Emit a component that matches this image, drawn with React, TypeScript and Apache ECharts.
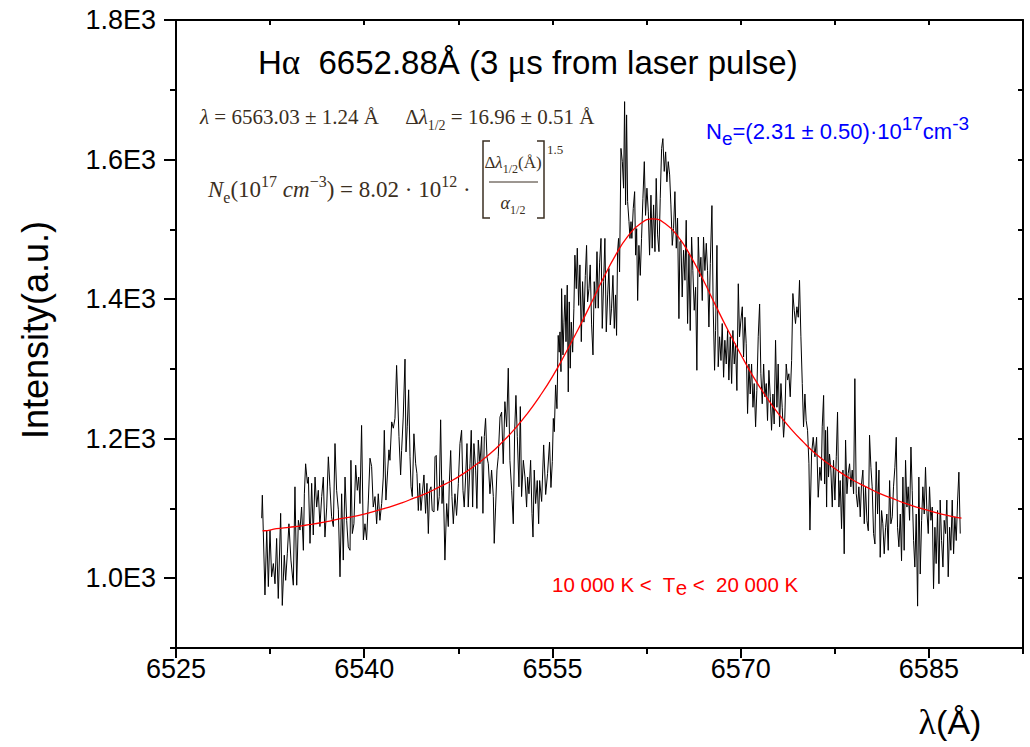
import React, { useEffect, useRef } from "react";
import * as echarts from "echarts";

const SANS = "'Liberation Sans', Arial, sans-serif";
const SERIF = "'Liberation Serif', 'Times New Roman', serif";
const INK = "#3b2f22";

const xTicks = [6525, 6540, 6555, 6570, 6585];
const xMinorTicks = [6532.5, 6547.5, 6562.5, 6577.5, 6592.5];
const yTicks = [1000, 1200, 1400, 1600, 1800];
const yTickLabels = ["1.0E3", "1.2E3", "1.4E3", "1.6E3", "1.8E3"];
const yMinorTicks = [900, 1100, 1300, 1500, 1700];

// measured spectrum (wavelength in Å, intensity in a.u.)
const wavelength = [
  6531.83, 6531.88, 6532.09, 6532.23, 6532.36, 6532.49, 6532.62, 6532.76, 6532.89, 6533.02,
  6533.15, 6533.34, 6533.47, 6533.63, 6533.74, 6533.87, 6534.0, 6534.16, 6534.35, 6534.48,
  6534.62, 6534.75, 6534.88, 6535.01, 6535.15, 6535.23, 6535.33, 6535.47, 6535.55, 6535.68,
  6535.81, 6535.94, 6536.08, 6536.21, 6536.34, 6536.47, 6536.61, 6536.74, 6536.87, 6537.01,
  6537.14, 6537.27, 6537.4, 6537.54, 6537.67, 6537.8, 6537.94, 6538.07, 6538.2, 6538.33,
  6538.47, 6538.6, 6538.73, 6538.87, 6538.94, 6539.05, 6539.18, 6539.32, 6539.45, 6539.56,
  6539.66, 6539.79, 6539.93, 6540.06, 6540.19, 6540.33, 6540.46, 6540.59, 6540.72, 6540.86,
  6540.99, 6541.12, 6541.25, 6541.39, 6541.52, 6541.6, 6541.73, 6541.87, 6541.97, 6542.05,
  6542.19, 6542.32, 6542.45, 6542.58,
  6542.77, 6542.9, 6542.98, 6543.11, 6543.25, 6543.33, 6543.43, 6543.54, 6543.65, 6543.73,
  6543.83, 6543.96, 6544.1, 6544.2, 6544.31, 6544.42, 6544.52, 6544.63, 6544.76, 6544.89,
  6545.0, 6545.11, 6545.21, 6545.32, 6545.42, 6545.56, 6545.64, 6545.74, 6545.85, 6545.98,
  6546.09, 6546.2, 6546.3, 6546.43, 6546.57, 6546.7, 6546.78, 6546.89, 6546.99, 6547.1,
  6547.23, 6547.36, 6547.5, 6547.63, 6547.76, 6547.87, 6547.97, 6548.08, 6548.19, 6548.29,
  6548.43, 6548.53, 6548.64, 6548.74, 6548.88, 6548.98, 6549.09, 6549.22, 6549.36, 6549.46,
  6549.57, 6549.67, 6549.78, 6549.89, 6550.02, 6550.15, 6550.29, 6550.36, 6550.47, 6550.58,
  6550.68, 6550.82, 6550.95, 6551.08, 6551.21, 6551.35, 6551.48, 6551.61, 6551.75, 6551.88,
  6551.99, 6552.09, 6552.2, 6552.33, 6552.44, 6552.54, 6552.68, 6552.81, 6552.94, 6553.02,
  6553.13, 6553.26, 6553.37, 6553.45, 6553.55, 6553.66, 6553.79, 6553.9,
  6553.98, 6554.14, 6554.3, 6554.46, 6554.61, 6554.77, 6554.88,
  6554.99, 6555.07, 6555.15, 6555.25, 6555.36, 6555.46, 6555.54, 6555.6, 6555.68, 6555.73,
  6555.84, 6555.92, 6556.0, 6556.08, 6556.18, 6556.26, 6556.34, 6556.42, 6556.5, 6556.61,
  6556.71, 6556.79, 6556.9, 6556.98, 6557.09, 6557.19, 6557.3, 6557.4, 6557.51, 6557.62,
  6557.72, 6557.8, 6557.91, 6558.01, 6558.12, 6558.23, 6558.33, 6558.44, 6558.55, 6558.65,
  6558.76, 6558.87, 6558.97, 6559.08, 6559.18, 6559.29, 6559.4, 6559.5, 6559.61, 6559.71,
  6559.82, 6559.93, 6560.03, 6560.11, 6560.19, 6560.27, 6560.35, 6560.46, 6560.57, 6560.67,
  6560.75, 6560.83, 6560.91, 6560.99, 6561.1, 6561.18, 6561.26, 6561.33, 6561.44, 6561.55,
  6561.63, 6561.71, 6561.79, 6561.89, 6562.0, 6562.1, 6562.21, 6562.32, 6562.42, 6562.53,
  6562.64, 6562.74, 6562.85, 6562.95, 6563.06, 6563.17, 6563.27, 6563.38, 6563.49, 6563.59,
  6563.7, 6563.8, 6563.91, 6564.02, 6564.12, 6564.23, 6564.34, 6564.44, 6564.55, 6564.65,
  6564.76, 6564.87, 6564.97, 6565.08, 6565.16,
  6565.24, 6565.34, 6565.45, 6565.56, 6565.66, 6565.77, 6565.88, 6565.98, 6566.09, 6566.19,
  6566.3, 6566.41, 6566.51, 6566.62, 6566.73, 6566.83, 6566.94, 6567.04, 6567.15, 6567.26,
  6567.36, 6567.47, 6567.58, 6567.71, 6567.81, 6567.92, 6568.0, 6568.11, 6568.21, 6568.32,
  6568.43, 6568.53, 6568.64, 6568.74, 6568.85, 6568.96, 6569.06, 6569.17, 6569.28, 6569.38,
  6569.49, 6569.59, 6569.7, 6569.81, 6569.91, 6570.02, 6570.13, 6570.23, 6570.34, 6570.44,
  6570.55, 6570.66, 6570.76, 6570.87, 6570.98, 6571.08, 6571.19, 6571.29, 6571.4, 6571.51,
  6571.61, 6571.72, 6571.83, 6571.93, 6572.04, 6572.14, 6572.25, 6572.36, 6572.46, 6572.57,
  6572.67, 6572.78, 6572.89, 6572.99, 6573.1, 6573.21, 6573.31, 6573.42, 6573.52, 6573.63,
  6573.74, 6573.84, 6573.95, 6574.06, 6574.16, 6574.27, 6574.37, 6574.48, 6574.59, 6574.69,
  6574.8, 6574.91, 6575.01, 6575.12, 6575.22, 6575.33, 6575.44, 6575.52, 6575.65, 6575.78,
  6575.92, 6576.05, 6576.18, 6576.31,
  6576.42, 6576.5, 6576.61, 6576.69, 6576.77, 6576.85, 6576.92, 6577.0, 6577.08, 6577.19,
  6577.3, 6577.4, 6577.51, 6577.62, 6577.72, 6577.83, 6577.93, 6578.04, 6578.15, 6578.25,
  6578.36, 6578.47, 6578.57, 6578.68, 6578.78, 6578.89, 6579.0, 6579.1, 6579.21, 6579.32,
  6579.42, 6579.53, 6579.63, 6579.74, 6579.85, 6579.95, 6580.06, 6580.17, 6580.27, 6580.38,
  6580.48, 6580.59, 6580.7, 6580.8, 6580.91, 6581.02, 6581.12, 6581.23, 6581.33, 6581.44,
  6581.55, 6581.65, 6581.76, 6581.87, 6581.97, 6582.08, 6582.18, 6582.29, 6582.4, 6582.5,
  6582.61, 6582.72, 6582.82, 6582.93, 6583.03, 6583.14, 6583.25, 6583.35, 6583.46, 6583.57,
  6583.67, 6583.78, 6583.88, 6583.99, 6584.1, 6584.2, 6584.31, 6584.42, 6584.52, 6584.63,
  6584.73, 6584.84, 6584.95, 6585.05, 6585.16, 6585.27, 6585.37, 6585.48, 6585.58, 6585.69,
  6585.8, 6585.9, 6586.01, 6586.12, 6586.22, 6586.33, 6586.43, 6586.54, 6586.65, 6586.75,
  6586.86, 6586.97, 6587.07, 6587.18, 6587.29, 6587.39, 6587.5,
];

const intensity = [
  1086, 1119, 976, 1069, 988, 1069, 1002, 1021, 992, 1057,
  971, 1093, 961, 1033, 997, 1035, 1078, 1026, 990, 1131,
  990, 1083, 1069, 1102, 1040, 1121, 1164, 1136, 1145, 1050,
  1136, 1062, 1145, 1102, 1126, 1074, 1117, 1145, 1059, 1102,
  1174, 1131, 1088, 1074, 1193, 1126, 1098, 1002, 1121, 1026,
  1145, 1083, 1045, 1040, 1169, 1064, 1078, 1162, 1126, 1145,
  1107, 1219, 1055, 1078, 1055, 1112, 1172, 1160, 1102, 1117,
  1078, 1121, 1083, 1107, 1145, 1212, 1112, 1155, 1184, 1169,
  1224, 1215, 1229, 1305,
  1203, 1148, 1183, 1231, 1314, 1181, 1217, 1270, 1174, 1131,
  1117, 1207, 1164, 1150, 1097, 1136, 1097, 1121, 1148, 1093,
  1136, 1064, 1126, 1131, 1097, 1095, 1174, 1176, 1097, 1117,
  1227, 1107, 1140, 1026, 1107, 1074, 1136, 1183, 1117, 1078,
  1121, 1090, 1136, 1193, 1212, 1126, 1102, 1145, 1193, 1102,
  1164, 1212, 1102, 1193, 1155, 1100, 1198, 1164, 1203, 1093,
  1203, 1229, 1174, 1164, 1121, 1155, 1117, 1050, 1102, 1155,
  1174, 1231, 1238, 1164, 1253, 1217, 1301, 1169, 1126, 1078,
  1212, 1262, 1203, 1131, 1246, 1117, 1169, 1145, 1102, 1145,
  1121, 1169, 1093, 1059, 1155, 1107, 1140, 1078,
  1140, 1110, 1191, 1120, 1150, 1195, 1130,
  1167, 1229, 1210, 1277, 1243, 1348, 1324, 1353, 1296, 1415,
  1320, 1367, 1406, 1339, 1420, 1267, 1396, 1301, 1367, 1324,
  1387, 1463, 1415, 1473, 1391, 1449, 1339, 1425, 1367, 1434,
  1477, 1396, 1415, 1449, 1363, 1320, 1425, 1387, 1468, 1387,
  1453, 1487, 1358, 1425, 1487, 1353, 1406, 1444, 1363, 1387,
  1434, 1358, 1406, 1348, 1468, 1487, 1439, 1616, 1597, 1559,
  1683, 1535, 1664, 1540, 1511, 1487, 1511, 1487, 1530, 1554,
  1463, 1501, 1398, 1477, 1434, 1487, 1544, 1597, 1520, 1559,
  1525, 1463, 1549, 1473, 1535, 1468, 1573, 1492, 1468, 1544,
  1616, 1630, 1583, 1611, 1568, 1597, 1578, 1535, 1477, 1501,
  1554, 1473, 1516, 1372, 1482,
  1484, 1403, 1470, 1427, 1513, 1365, 1465, 1355, 1489, 1441,
  1384, 1417, 1298, 1489, 1432, 1460, 1398, 1489, 1441, 1480,
  1441, 1360, 1451, 1534, 1389, 1298, 1355, 1477, 1303, 1346,
  1312, 1365, 1288, 1341, 1307, 1355, 1284, 1346, 1279, 1355,
  1307, 1336, 1269, 1422, 1346, 1370, 1389, 1317, 1374, 1336,
  1236, 1307, 1264, 1307, 1245, 1279, 1217, 1269, 1346, 1393,
  1293, 1250, 1307, 1260, 1279, 1226, 1298, 1260, 1212, 1264,
  1221, 1341, 1245, 1307, 1217, 1279, 1245, 1202, 1231, 1307,
  1284, 1293, 1260, 1312, 1408, 1384, 1365, 1389, 1374, 1427,
  1346, 1279, 1217, 1264, 1226, 1212, 1164, 1069, 1178, 1202,
  1174, 1202, 1116, 1159,
  1140, 1217, 1262, 1135, 1212, 1102, 1217, 1145, 1178, 1155,
  1102, 1169, 1112, 1174, 1238, 1102, 1140, 1071, 1155, 1035,
  1198, 1121, 1150, 1164, 1131, 1155, 1121, 1286, 1121, 1102,
  1131, 1088, 1135, 1155, 1078, 1131, 1083, 1068, 1205, 1159,
  1131, 1064, 1049, 1167, 1092, 1155, 1030, 1097, 1078, 1035,
  1073, 1092, 1040, 1140, 1078, 1088, 1131, 1159, 1202, 1073,
  1045, 1092, 1025, 1145, 1040, 1169, 1102, 1131, 1083, 1188,
  1126, 1054, 1016, 1092, 960, 1145, 1006, 1083, 1131, 1092,
  1159, 1097, 1064, 1131, 1083, 1102, 985, 1073, 1021, 1097,
  992, 1112, 1054, 1016, 1083, 1064, 1112, 1002, 1073, 1040,
  1112, 1035, 1088, 1054, 1112, 1152, 1064,
];

// fitted profile (red curve)
const fitWavelength = [
  6531.9, 6532, 6533, 6534, 6535, 6536, 6537, 6538, 6539, 6540, 6541, 6542, 6543, 6544, 6545,
  6546, 6547, 6548, 6549, 6550, 6551, 6552, 6553, 6554, 6555, 6556, 6557, 6558, 6559, 6560,
  6561, 6562, 6563, 6564, 6565, 6566, 6567, 6568, 6569, 6570, 6571, 6572, 6573, 6574, 6575,
  6576, 6577, 6578, 6579, 6580, 6581, 6582, 6583, 6584, 6585, 6586, 6587, 6587.6,
];
const fitIntensity = [
  1068, 1068, 1071, 1073, 1075, 1078, 1081, 1085, 1088, 1092, 1097, 1102, 1108, 1115, 1122,
  1131, 1140, 1151, 1164, 1178, 1195, 1214, 1236, 1261, 1289, 1321, 1355, 1391, 1428, 1462,
  1490, 1508, 1515, 1508, 1490, 1462, 1428, 1391, 1355, 1321, 1289, 1261, 1236, 1214, 1195,
  1178, 1164, 1151, 1140, 1131, 1122, 1115, 1108, 1102, 1097, 1092, 1088, 1086,
];

const titleText = "H{g|α}  6652.88Å (3 {g|μ}s from laser pulse)";
const formulaLine1 = "{i|λ} = 6563.03 ± 1.24 Å     Δ{i|λ}{sub|1/2} = 16.96 ± 0.51 Å";
const formulaLine2 = "{i|N}{sub|e}(10{sup|17} {i|cm}{sup|−3}) = 8.02 · 10{sup|12} ·";
const formulaNum = "Δ{i|λ}{sub|1/2}(Å)";
const formulaDen = "{i|α}{sub|1/2}";
const densityText = "N{sub|e}=(2.31 ± 0.50)·10{sup|17}cm{sup|-3}";
const tempText = "10 000 K <  T{sub|e} <  20 000 K";
const yName = "Intensity(a.u.)";
const xName = "{g|λ}(Å)";

export default function App() {
  const ref = useRef<HTMLDivElement>(null);

  useEffect(() => {
    document.body.style.margin = "0";
    const chart = echarts.init(ref.current as HTMLDivElement, null, { renderer: "svg" });

    const n = Math.min(wavelength.length, intensity.length);
    const spectrum: number[][] = [];
    for (let i = 0; i < n; i++) spectrum.push([wavelength[i], intensity[i]]);
    const fit = fitWavelength.map((x, i) => [x, fitIntensity[i]]);

    const line = { show: true, onZero: false, lineStyle: { color: "#000", width: 2 } };
    const tickStyle = { color: "#000", width: 2 };
    const xBase = { type: "value", min: 6525, max: 6592.5, splitLine: { show: false } };
    const yBase = { type: "value", min: 900, max: 1800, splitLine: { show: false } };

    const serifRich = (size: number, color: string) => ({
      i: { fontFamily: SERIF, fontStyle: "italic", fontSize: size, fill: color },
      sub: { fontFamily: SERIF, fontSize: Math.round(size * 0.68), verticalAlign: "bottom", lineHeight: 13, fill: color },
      sup: { fontFamily: SERIF, fontSize: Math.round(size * 0.68), verticalAlign: "top", lineHeight: 13, fill: color },
    });

    chart.setOption({
      animation: false,
      backgroundColor: "#ffffff",
      grid: { left: 176, right: 7, top: 20, bottom: 99 },
      xAxis: [
        {
          ...xBase,
          position: "bottom",
          axisLine: line,
          axisTick: { show: true, inside: false, length: 10, lineStyle: tickStyle, customValues: xTicks },
          axisLabel: {
            show: true,
            customValues: xTicks,
            fontSize: 27,
            fontFamily: SANS,
            color: "#000",
            margin: 7,
            formatter: (v: number) => String(v),
          },
        },
        {
          ...xBase,
          position: "bottom",
          axisLine: { show: false },
          axisTick: { show: true, inside: false, length: 6, lineStyle: tickStyle, customValues: xMinorTicks },
          axisLabel: { show: false },
        },
        {
          ...xBase,
          position: "top",
          axisLine: line,
          axisTick: { show: true, inside: true, length: 5, lineStyle: tickStyle, customValues: [...xTicks, ...xMinorTicks] },
          axisLabel: { show: false },
        },
      ],
      yAxis: [
        {
          ...yBase,
          position: "left",
          axisLine: line,
          axisTick: { show: true, inside: false, length: 12, lineStyle: tickStyle, customValues: yTicks },
          axisLabel: {
            show: true,
            customValues: yTicks,
            fontSize: 27,
            fontFamily: SANS,
            color: "#000",
            margin: 20,
            formatter: (v: number) => yTickLabels[yTicks.indexOf(v)] ?? "",
          },
        },
        {
          ...yBase,
          position: "left",
          axisLine: { show: false },
          axisTick: { show: true, inside: false, length: 6, lineStyle: tickStyle, customValues: yMinorTicks },
          axisLabel: { show: false },
        },
        {
          ...yBase,
          position: "right",
          axisLine: line,
          axisTick: { show: true, inside: true, length: 5, lineStyle: tickStyle, customValues: [...yTicks, ...yMinorTicks] },
          axisLabel: { show: false },
        },
      ],
      series: [
        {
          name: "spectrum",
          type: "line",
          data: spectrum,
          showSymbol: false,
          symbol: "none",
          lineStyle: { color: "#000", width: 1 },
          z: 2,
        },
        {
          name: "fit",
          type: "line",
          data: fit,
          showSymbol: false,
          symbol: "none",
          smooth: true,
          lineStyle: { color: "#ff0000", width: 1.3 },
          z: 5,
        },
      ],
      graphic: [
        {
          type: "text",
          x: 258,
          y: 62,
          z: 10,
          style: {
            text: titleText,
            fontFamily: SANS,
            fontSize: 33,
            fill: "#000",
            align: "left",
            verticalAlign: "middle",
            rich: { g: { fontFamily: SERIF, fontSize: 35, fill: "#000" } },
          },
        },
        {
          type: "text",
          x: 200,
          y: 117,
          z: 10,
          style: {
            text: formulaLine1,
            fontFamily: SERIF,
            fontSize: 21,
            lineHeight: 30,
            fill: INK,
            align: "left",
            verticalAlign: "middle",
            rich: serifRich(21, INK),
          },
        },
        {
          type: "text",
          x: 208,
          y: 189,
          z: 10,
          style: {
            text: formulaLine2,
            fontFamily: SERIF,
            fontSize: 23,
            lineHeight: 32,
            fill: INK,
            align: "left",
            verticalAlign: "middle",
            rich: serifRich(23, INK),
          },
        },
        {
          type: "polyline",
          z: 10,
          shape: { points: [[490, 141], [483, 141], [483, 218], [490, 218]] },
          style: { stroke: INK, lineWidth: 1.5, fill: "none" },
        },
        {
          type: "polyline",
          z: 10,
          shape: { points: [[537, 141], [544, 141], [544, 218], [537, 218]] },
          style: { stroke: INK, lineWidth: 1.5, fill: "none" },
        },
        {
          type: "line",
          z: 10,
          shape: { x1: 489, y1: 182, x2: 538, y2: 182 },
          style: { stroke: INK, lineWidth: 1 },
        },
        {
          type: "text",
          x: 513,
          y: 162,
          z: 10,
          style: {
            text: formulaNum,
            fontFamily: SERIF,
            fontSize: 17,
            lineHeight: 26,
            fill: INK,
            align: "center",
            verticalAlign: "middle",
            rich: serifRich(17, INK),
          },
        },
        {
          type: "text",
          x: 513,
          y: 203,
          z: 10,
          style: {
            text: formulaDen,
            fontFamily: SERIF,
            fontSize: 18,
            lineHeight: 26,
            fill: INK,
            align: "center",
            verticalAlign: "middle",
            rich: serifRich(18, INK),
          },
        },
        {
          type: "text",
          x: 547,
          y: 149,
          z: 10,
          style: { text: "1.5", fontFamily: SERIF, fontSize: 13, fill: INK, align: "left", verticalAlign: "middle" },
        },
        {
          type: "text",
          x: 706,
          y: 131,
          z: 10,
          style: {
            text: densityText,
            fontFamily: SANS,
            fontSize: 22,
            lineHeight: 34,
            fill: "#0000ff",
            align: "left",
            verticalAlign: "middle",
            rich: {
              sub: { fontFamily: SANS, fontSize: 19, verticalAlign: "bottom", lineHeight: 15, fill: "#0000ff" },
              sup: { fontFamily: SANS, fontSize: 19, verticalAlign: "top", lineHeight: 15, fill: "#0000ff" },
            },
          },
        },
        {
          type: "text",
          x: 552,
          y: 584,
          z: 10,
          style: {
            text: tempText,
            fontFamily: SANS,
            fontSize: 20.5,
            lineHeight: 28,
            fill: "#ff0000",
            align: "left",
            verticalAlign: "middle",
            rich: {
              sub: { fontFamily: SANS, fontSize: 20.5, verticalAlign: "bottom", lineHeight: 12, fill: "#ff0000" },
            },
          },
        },
        {
          type: "text",
          x: 35,
          y: 330,
          rotation: Math.PI / 2,
          z: 10,
          style: {
            text: yName,
            fontFamily: SANS,
            fontSize: 36,
            fill: "#000",
            align: "center",
            verticalAlign: "middle",
          },
        },
        {
          type: "text",
          x: 950,
          y: 722,
          z: 10,
          style: {
            text: xName,
            fontFamily: SANS,
            fontSize: 34,
            fill: "#000",
            align: "center",
            verticalAlign: "middle",
            rich: { g: { fontFamily: SERIF, fontSize: 36, fill: "#000" } },
          },
        },
      ],
    });

    return () => chart.dispose();
  }, []);

  return <div ref={ref} style={{ width: 1030, height: 747 }} />;
}
